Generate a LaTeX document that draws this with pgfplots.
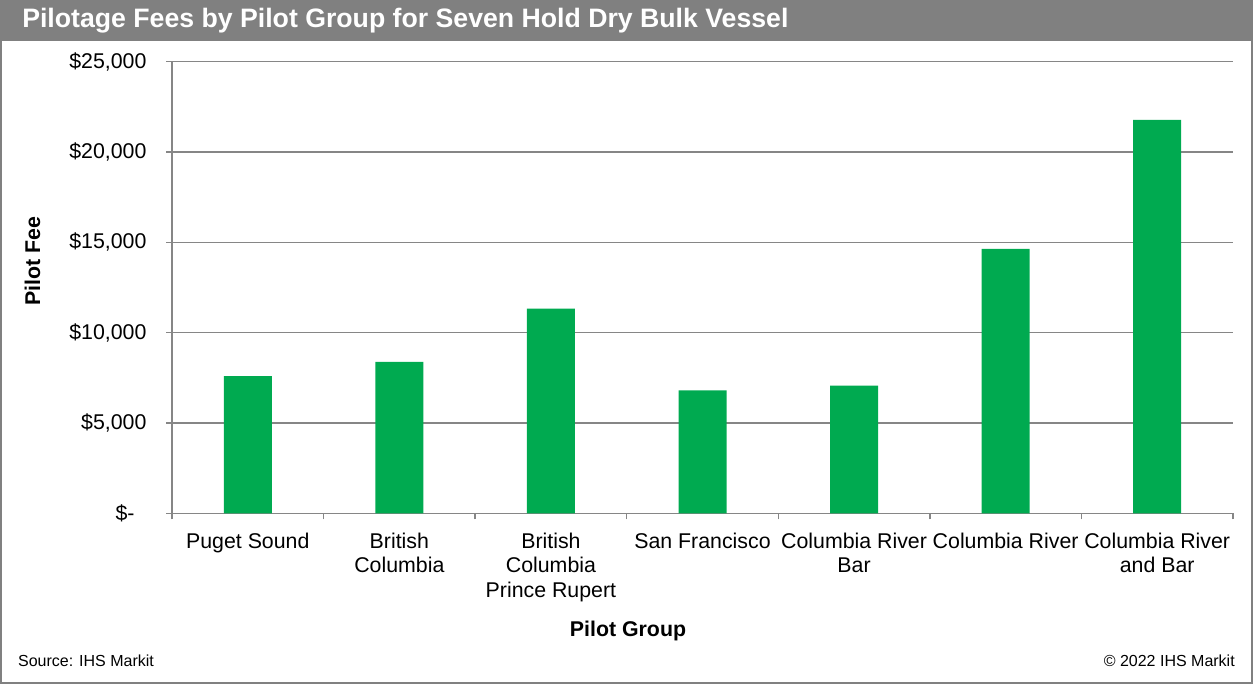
\documentclass[border=0pt]{standalone}
\usepackage{pgfplots}
\pgfplotsset{compat=1.18}
\usepackage{fontspec}
\setmainfont{Liberation Sans}
\definecolor{barg}{RGB}{0,170,80}
\definecolor{frameg}{RGB}{128,128,128}
\definecolor{gridg}{RGB}{134,134,134}
\begin{document}
\begin{tikzpicture}
\useasboundingbox (0,0) rectangle (939.75pt,-513pt);
\fill[frameg] (0,0) rectangle (939.75pt,-30.75pt);
\draw[frameg, line width=1.5pt] (0.75pt,-0.75pt) rectangle (939pt,-512.25pt);
\node[anchor=west, inner sep=0pt, text=white, font=\bfseries\fontsize{20}{24}\selectfont] at (16.5pt,-15.4pt) {Pilotage Fees by Pilot Group for Seven Hold Dry Bulk Vessel};
\begin{axis}[
 at={(129pt,-385pt)}, anchor=south west,
 scale only axis, width=795.75pt, height=338.7pt,
 xmin=-0.5, xmax=6.5, ymin=0, ymax=25000,
 axis x line*=bottom, axis y line*=left,
 axis line style={gridg, line width=1.1pt, -},
 ymajorgrids, grid style={gridg, line width=1.1pt},
 tick style={gridg, line width=1.1pt},
 tick align=outside, major tick length=4.5pt,
 xtick={0,...,6},
 xtick style={draw=none},
 extra x ticks={-0.5,0.5,1.5,2.5,3.5,4.5,5.5,6.5},
 extra x tick labels={},
 extra x tick style={xtick style={draw=gridg, line width=1.1pt}},
 xticklabels={{Puget Sound},{British\\Columbia},{British\\Columbia\\Prince Rupert},{San Francisco},{Columbia River\\Bar},{Columbia River},{Columbia River\\and Bar}},
 xticklabel style={align=center, anchor=north, inner sep=0pt, font=\fontsize{16}{18.4}\selectfont, yshift=-10pt},
 ytick={0,5000,10000,15000,20000,25000},
 scaled y ticks=false,
 yticklabels={{\$-\hphantom{0}},{\$5,000},{\$10,000},{\$15,000},{\$20,000},{\$25,000}},
 yticklabel style={anchor=east, inner sep=0pt, font=\fontsize{16}{19}\selectfont, xshift=-14.5pt},
 /pgf/number format/assume math mode=true,
 ybar, bar width=36pt,
]
\addplot[fill=barg, draw=none] coordinates {(0,7600)(1,8380)(2,11330)(3,6810)(4,7070)(5,14640)(6,21780)};
\end{axis}
\node[rotate=90, inner sep=0pt, font=\bfseries\fontsize{16}{19}\selectfont] at (24.4pt,-196pt) {Pilot Fee};
\node[anchor=base, inner sep=0pt, font=\bfseries\fontsize{16}{19}\selectfont] at (471pt,-477pt) {Pilot Group};
\node[anchor=base west, inner sep=0pt, font=\fontsize{12}{14}\selectfont] at (13.4pt,-500pt) {Source: IHS Markit};
\node[anchor=base east, inner sep=0pt, font=\fontsize{12}{14}\selectfont] at (926.25pt,-500pt) {\textcopyright\ 2022 IHS Markit};
\end{tikzpicture}
\end{document}
